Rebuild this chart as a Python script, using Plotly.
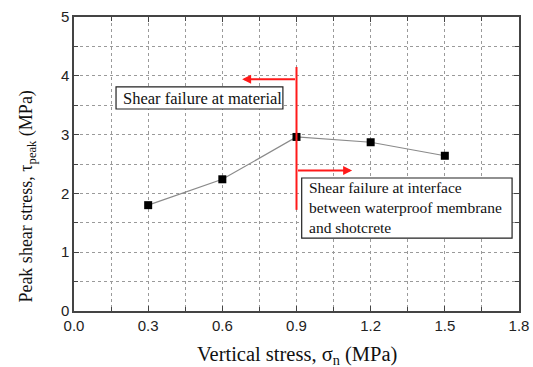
import plotly.graph_objects as go

# Peak shear stress vs vertical stress
vertical_stress = [0.3, 0.6, 0.9, 1.2, 1.5]
peak_shear = [1.80, 2.24, 2.96, 2.87, 2.64]

x_ticks = [0.0, 0.3, 0.6, 0.9, 1.2, 1.5, 1.8]
y_ticks = [0, 1, 2, 3, 4, 5]

boundary_x = 0.9
boundary_y = [1.72, 4.15]
left_arrow = dict(y=3.94, tip=0.68)
right_arrow = dict(y=2.39, tip=1.125)

label_material = "Shear failure at material"
label_interface = ["Shear failure at interface",
                   "between waterproof membrane",
                   "and shotcrete"]

serif = "Liberation Serif, Times New Roman, serif"
sans = "Liberation Sans, Arial, sans-serif"
red = "#ff1a1a"

fig = go.Figure()
fig.add_trace(go.Scatter(
    x=vertical_stress, y=peak_shear, mode="lines+markers",
    line=dict(color="#8a8a8a", width=1.2),
    marker=dict(symbol="square", size=8, color="black"),
    showlegend=False,
))

# phase boundary at sigma_n = 0.9 MPa
fig.add_shape(type="line", x0=boundary_x, x1=boundary_x,
              y0=boundary_y[0], y1=boundary_y[1],
              line=dict(color=red, width=2), layer="above")

arrow_common = dict(xref="x", yref="y", axref="x", ayref="y", text="",
                    showarrow=True, arrowhead=2, arrowsize=0.9,
                    arrowwidth=2, arrowcolor=red)
fig.add_annotation(x=left_arrow["tip"], y=left_arrow["y"],
                   ax=boundary_x, ay=left_arrow["y"], **arrow_common)
fig.add_annotation(x=right_arrow["tip"], y=right_arrow["y"],
                   ax=boundary_x, ay=right_arrow["y"], **arrow_common)

# text boxes
box_line = dict(color="#222", width=1.2)
fig.add_shape(type="rect", x0=0.170, x1=0.845, y0=3.435, y1=3.81,
              line=box_line, fillcolor="white", layer="above")
fig.add_shape(type="rect", x0=0.921, x1=1.772, y0=1.241, y1=2.262,
              line=box_line, fillcolor="white", layer="above")

fig.add_annotation(x=0.19, y=3.62, xref="x", yref="y", xanchor="left",
                   yanchor="middle", text=label_material, showarrow=False,
                   font=dict(family=serif, size=16.5, color="#111"))
fig.add_annotation(x=0.942, y=1.752, xref="x", yref="y", xanchor="left",
                   yanchor="middle", align="left",
                   text="<br>".join(label_interface), showarrow=False,
                   font=dict(family=serif, size=15.5, color="#111"))

# axis titles
fig.add_annotation(xref="paper", yref="paper", x=0.5, y=-0.15,
                   xanchor="center", yanchor="middle", showarrow=False,
                   text="Vertical stress, σ<sub>n</sub> (MPa)",
                   font=dict(family=serif, size=20.5, color="#111"))
fig.add_annotation(xref="paper", yref="paper", x=-0.105, y=0.39,
                   xanchor="center", yanchor="middle", showarrow=False,
                   textangle=-90,
                   text="Peak shear stress, τ<sub>peak</sub> (MPa)",
                   font=dict(family=serif, size=18, color="#111"))

axis_common = dict(
    showline=True, linecolor="#444", linewidth=1.5, mirror="ticks",
    ticks="inside", ticklen=5, tickcolor="#444", tickwidth=1.2,
    showgrid=True, gridcolor="#9a9a9a", griddash="dot", gridwidth=1,
    zeroline=False, tickfont=dict(family=sans, size=15, color="#222"),
)

fig.update_xaxes(range=[0, 1.8], tickvals=x_ticks,
                 ticktext=[f"{v:.1f}" for v in x_ticks],
                 minor=dict(dtick=0.15, tick0=0, ticks="inside", ticklen=4,
                            tickcolor="#444", showgrid=True,
                            gridcolor="#9a9a9a", griddash="dot"),
                 **axis_common)
fig.update_yaxes(range=[0, 5], tickvals=y_ticks,
                 minor=dict(dtick=0.5, tick0=0, ticks="inside", ticklen=4,
                            tickcolor="#444", showgrid=True,
                            gridcolor="#9a9a9a", griddash="dot"),
                 **axis_common)

fig.update_layout(
    width=533, height=367,
    margin=dict(l=74, r=14, t=17, b=56, autoexpand=False),
    paper_bgcolor="white", plot_bgcolor="white",
)

fig.write_html("out.html")
